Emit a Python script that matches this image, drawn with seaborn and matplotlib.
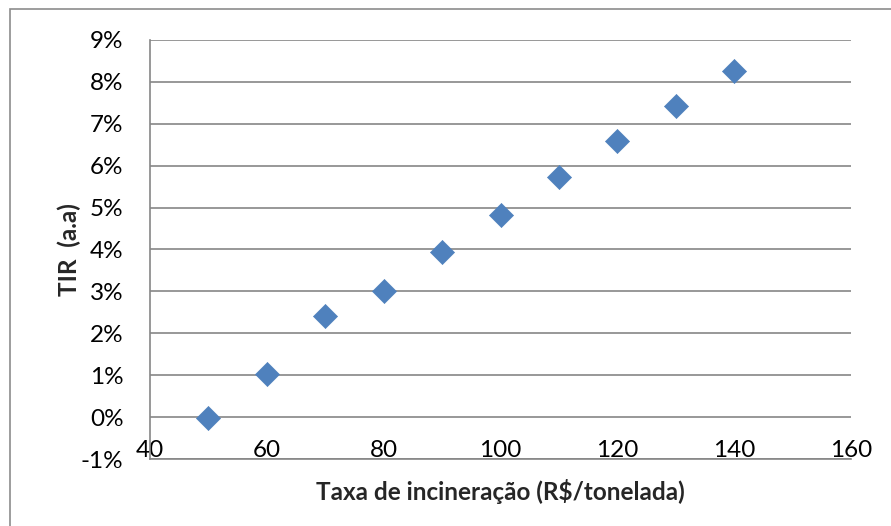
import matplotlib
matplotlib.use("Agg")
import matplotlib.pyplot as plt
import seaborn as sns
import pandas as pd
from matplotlib.patches import Rectangle
from matplotlib.ticker import FuncFormatter

taxa = [50, 60, 70, 80, 90, 100, 110, 120, 130, 140]
tir = [-0.0003, 0.0103, 0.0241, 0.0301, 0.0393, 0.0483, 0.0572, 0.0658, 0.0742, 0.0825]
x_ticks = [40, 60, 80, 100, 120, 140, 160]
y_ticks = [-0.01, 0.0, 0.01, 0.02, 0.03, 0.04, 0.05, 0.06, 0.07, 0.08, 0.09]

sns.set_theme(style="white")
plt.rcParams['font.family'] = ['Lato', 'DejaVu Sans']

df = pd.DataFrame({"taxa": taxa, "tir": tir})

fig = plt.figure(figsize=(8.91, 5.26), dpi=100)
ax = fig.add_axes([150/891, 1 - 459/526, (851-150)/891, (459-40)/526])

fig.patches.append(Rectangle((10/891, -0.1), 1.2, 1 - 9/526 + 0.1, transform=fig.transFigure,
                             fill=False, edgecolor='#8c8c8c', linewidth=1.2))

sns.scatterplot(data=df, x="taxa", y="tir", ax=ax, marker="D", s=150, color="#4F81BD",
                edgecolor="#4F81BD", linewidth=0.5, zorder=3, clip_on=False)

ax.set_xlim(40, 160)
ax.set_ylim(-0.01, 0.09)
ax.set_xticks(x_ticks)
ax.set_yticks(y_ticks)
ax.yaxis.set_major_formatter(FuncFormatter(lambda v, p: f"{round(v*100):d}%"))
ax.grid(axis='y', color='#868686', linewidth=1.2)
ax.grid(axis='x', visible=False)
ax.set_axisbelow(True)
for s in ['top', 'right']:
    ax.spines[s].set_visible(False)
for s in ['left', 'bottom']:
    ax.spines[s].set_color('#868686')
    ax.spines[s].set_linewidth(1.2)

ax.tick_params(axis='x', length=0, pad=-13.5, labelsize=17.5, colors='black')
ax.tick_params(axis='y', length=0, pad=19, labelsize=17.5, colors='black')
for lab in ax.get_yticklabels():
    lab.set_horizontalalignment('right')

ax.set_xlabel("Taxa de incineração (R$/tonelada)", fontsize=17.5, fontweight='bold', labelpad=13)
ax.set_ylabel("TIR  (a.a)", fontsize=17.5, fontweight='bold', labelpad=0)

fig.savefig("out.png", dpi=100)
